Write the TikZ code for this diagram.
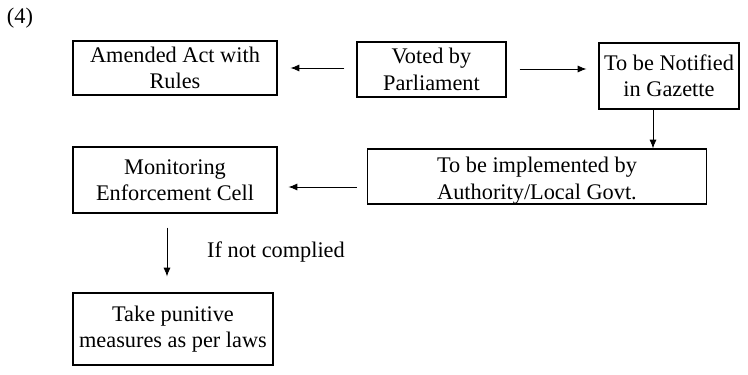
\documentclass[tikz,border=0pt]{standalone}
\usepackage{fontspec}
\setmainfont{Liberation Serif}
\usepackage{tikz}
\usetikzlibrary{calc,arrows.meta}
\tikzset{
  box/.style={draw=black, line width=0.6pt, align=center, inner sep=0pt, font=\fontsize{12.7}{15}\selectfont},
  arr/.style={draw=black, line width=0.5pt, -{Latex[length=5pt,width=4pt]}},
  lab/.style={font=\fontsize{12.7}{15}\selectfont, inner sep=0pt},
}
\begin{document}
\begin{tikzpicture}[x=0.02cm,y=-0.02cm]
  \useasboundingbox (0,0) rectangle (748,375);
  \node[lab] (num) at (20,18) {(4)};
  % top row
  \node[box, minimum width=4.08cm, minimum height=1.08cm] (amend) at (175,68) {Amended Act with\\Rules};
  \node[box, minimum width=2.98cm, minimum height=1.10cm] (voted) at (431.5,69.5) {Voted by\\Parliament};
  \node[box, minimum width=2.80cm, minimum height=1.32cm] (gazette) at (669,76) {To be Notified\\in Gazette};
  % middle row
  \node[box, minimum width=6.80cm, minimum height=1.10cm, text height=28pt, text depth=2pt] (impl) at (537,176.5) {To be implemented by\\Authority/Local Govt.};
  \node[box, minimum width=4.08cm, minimum height=1.32cm] (monitor) at (175,180) {Monitoring\\Enforcement Cell};
  % bottom
  \node[box, minimum width=4.00cm, minimum height=1.44cm] (punish) at (173,329) {Take punitive\\measures as per laws};
  \node[lab] (cond) at (276,252) {If not complied};
  % arrows
  \draw[arr, shorten <=0.24cm, shorten >=0.26cm] (voted.west |- 0,68) -- (amend.east |- 0,68);
  \draw[arr, shorten <=0.26cm, shorten >=0.24cm] (voted.east |- 0,69) -- (gazette.west |- 0,69);
  \draw[arr] ([xshift=-0.32cm]gazette.south) -- ([xshift=-0.32cm]gazette.south |- impl.north);
  \draw[arr, shorten <=0.20cm, shorten >=0.22cm] (impl.west |- 0,187) -- (monitor.east |- 0,187);
  \draw[arr, shorten <=0.28cm, shorten >=0.32cm] ([xshift=-0.16cm]monitor.south) -- ([xshift=-0.16cm]monitor.south |- punish.north);
\end{tikzpicture}
\end{document}
